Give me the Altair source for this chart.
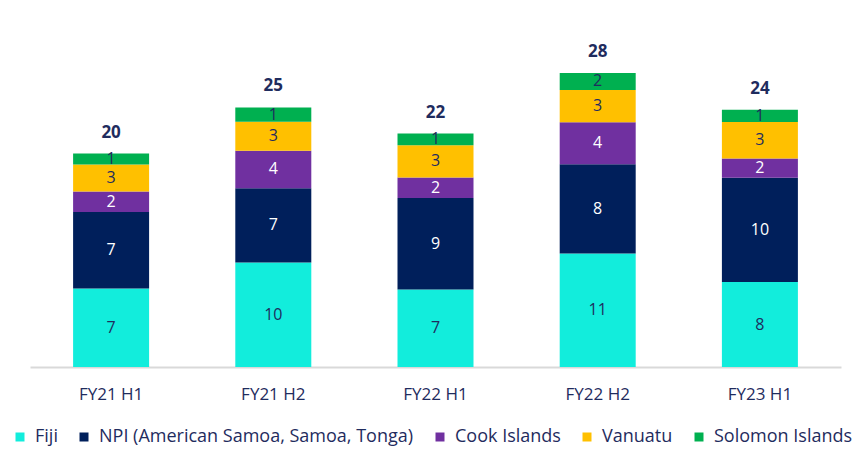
import altair as alt
import pandas as pd

categories = ["FY21 H1", "FY21 H2", "FY22 H1", "FY22 H2", "FY23 H1"]
series = ["Fiji", "NPI (American Samoa, Samoa, Tonga)", "Cook Islands", "Vanuatu", "Solomon Islands"]
fiji = [7.41, 9.87, 7.32, 10.72, 8.03]
npi = [7.24, 7.02, 8.66, 8.45, 9.87]
cook = [1.93, 3.56, 1.93, 3.97, 1.82]
vanuatu = [2.55, 2.74, 3.05, 3.05, 3.43]
solomon = [1.04, 1.35, 1.11, 1.61, 1.17]

colors = ["#12EDDC", "#001F5B", "#7030A0", "#FFC000", "#00B050"]
NAVY = "#1F2C5E"

rows = []
for si, (name, vals) in enumerate(zip(series, [fiji, npi, cook, vanuatu, solomon])):
    for c, v in zip(categories, vals):
        rows.append({"cat": c, "series": name, "idx": si, "value": v})
df = pd.DataFrame(rows)

FONT = "Open Sans"
x = alt.X("cat:N", sort=categories, title=None,
          scale=alt.Scale(paddingInner=0.53, paddingOuter=0.265),
          axis=alt.Axis(labelAngle=0, ticks=False, grid=False, domainColor="#D9D9D9",
                        domainWidth=2, labelFont=FONT, labelFontSize=17, labelColor=NAVY,
                        labelPadding=19))
yscale = alt.Scale(domain=[0, 32.8], nice=False, zero=True)

base = alt.Chart(df)

bars = base.mark_bar(size=76).encode(
    x=x,
    y=alt.Y("value:Q", stack="zero", scale=yscale, axis=None),
    color=alt.Color("series:N", scale=alt.Scale(domain=series, range=colors),
                    legend=alt.Legend(title=None, orient="none", direction="horizontal",
                                      legendX=-19, legendY=408, symbolType="square",
                                      symbolSize=81, symbolStrokeWidth=0, labelFont=FONT,
                                      labelFontSize=18, labelColor=NAVY, labelLimit=500,
                                      labelOffset=6, columnPadding=17)),
    order=alt.Order("idx:Q", sort="ascending"),
)

seg_text = base.transform_stack(
    stack="value", as_=["y0", "y1"], groupby=["cat"], sort=[alt.SortField("idx", order="ascending")]
).transform_calculate(
    mid="(datum.y0 + datum.y1) / 2"
).mark_text(font=FONT, fontSize=16, baseline="middle").encode(
    x=alt.X("cat:N", sort=categories),
    y=alt.Y("mid:Q", scale=yscale),
    text=alt.Text("value:Q", format=".0f"),
    color=alt.condition("datum.idx == 1 || datum.idx == 2", alt.value("#FFFFFF"), alt.value(NAVY)),
)

totals = base.transform_aggregate(
    total="sum(value)", groupby=["cat"]
).mark_text(font=FONT, fontSize=17, fontWeight="bold", baseline="bottom", dy=-12, color=NAVY).encode(
    x=alt.X("cat:N", sort=categories),
    y=alt.Y("total:Q", scale=yscale),
    text=alt.Text("total:Q", format=".0f"),
)

chart = alt.layer(bars, seg_text, totals).properties(
    width=811, height=347,
    autosize=alt.AutoSizeParams(type="none"),
    padding={"left": 22, "top": 12, "right": 12, "bottom": 82},
).configure_view(stroke=None)

chart.save("out.html", embed_options={"renderer": "svg", "actions": False})
